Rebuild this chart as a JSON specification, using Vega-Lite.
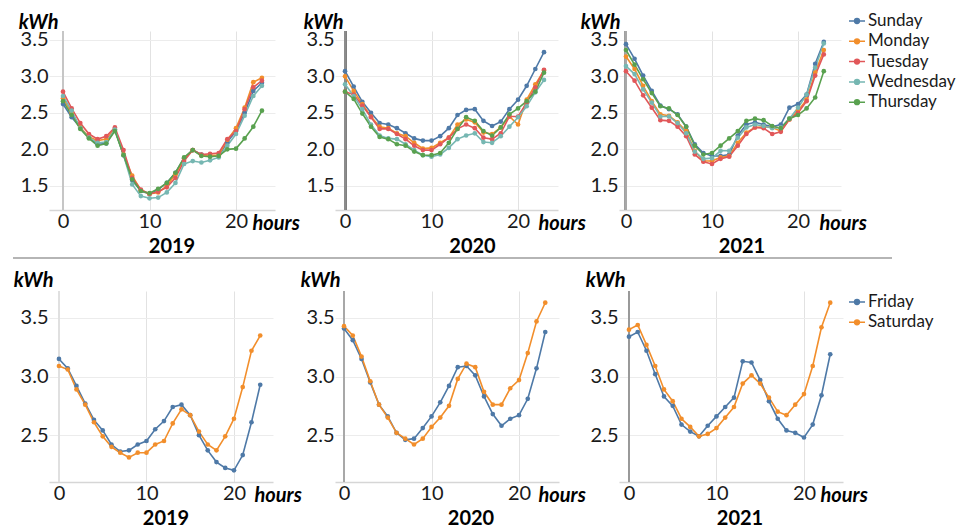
{
  "$schema": "https://vega.github.io/schema/vega-lite/v6.json",
  "padding": {"left": 12, "top": 12, "right": 0, "bottom": 0},
  "autosize": {"type": "pad"},
  "config": {
    "font": "Lato",
    "view": {"stroke": null},
    "axis": {
      "labelFont": "Lato", "labelFontSize": 20, "labelColor": "#1a1a1a", "ticks": false,
      "gridColor": "#ececec", "gridWidth": 1,
      "titleFont": "Lato", "titleFontSize": 20, "titleFontWeight": "bold", "titleFontStyle": "italic", "titleColor": "#000000"
    },
    "axisX": {"domainColor": "#d6d6d6", "domainWidth": 1.5, "labelPadding": 1, "labelAngle": 0, "gridColor": "#e2e2e2", "labelFlush": false},
    "axisY": {"domain": false, "labelPadding": 1},
    "title": {"font": "Lato", "fontSize": 20, "fontWeight": "bold", "color": "#000000", "offset": 0},
    "legend": {"labelFont": "Lato", "labelFontSize": 17, "labelColor": "#1a1a1a"}
  },
  "datasets": {
    "weekdays": [
      {"year":2019,"day":"Sunday","hour":0,"kwh":2.62},{"year":2019,"day":"Sunday","hour":1,"kwh":2.44},{"year":2019,"day":"Sunday","hour":2,"kwh":2.30},{"year":2019,"day":"Sunday","hour":3,"kwh":2.16},{"year":2019,"day":"Sunday","hour":4,"kwh":2.07},{"year":2019,"day":"Sunday","hour":5,"kwh":2.08},{"year":2019,"day":"Sunday","hour":6,"kwh":2.27},{"year":2019,"day":"Sunday","hour":7,"kwh":1.92},{"year":2019,"day":"Sunday","hour":8,"kwh":1.58},{"year":2019,"day":"Sunday","hour":9,"kwh":1.43},{"year":2019,"day":"Sunday","hour":10,"kwh":1.39},{"year":2019,"day":"Sunday","hour":11,"kwh":1.45},{"year":2019,"day":"Sunday","hour":12,"kwh":1.54},{"year":2019,"day":"Sunday","hour":13,"kwh":1.68},{"year":2019,"day":"Sunday","hour":14,"kwh":1.88},{"year":2019,"day":"Sunday","hour":15,"kwh":1.99},{"year":2019,"day":"Sunday","hour":16,"kwh":1.93},{"year":2019,"day":"Sunday","hour":17,"kwh":1.91},{"year":2019,"day":"Sunday","hour":18,"kwh":1.91},{"year":2019,"day":"Sunday","hour":19,"kwh":2.10},{"year":2019,"day":"Sunday","hour":20,"kwh":2.25},{"year":2019,"day":"Sunday","hour":21,"kwh":2.50},{"year":2019,"day":"Sunday","hour":22,"kwh":2.80},{"year":2019,"day":"Sunday","hour":23,"kwh":2.91},
      {"year":2019,"day":"Monday","hour":0,"kwh":2.70},{"year":2019,"day":"Monday","hour":1,"kwh":2.50},{"year":2019,"day":"Monday","hour":2,"kwh":2.30},{"year":2019,"day":"Monday","hour":3,"kwh":2.17},{"year":2019,"day":"Monday","hour":4,"kwh":2.12},{"year":2019,"day":"Monday","hour":5,"kwh":2.14},{"year":2019,"day":"Monday","hour":6,"kwh":2.28},{"year":2019,"day":"Monday","hour":7,"kwh":1.93},{"year":2019,"day":"Monday","hour":8,"kwh":1.64},{"year":2019,"day":"Monday","hour":9,"kwh":1.44},{"year":2019,"day":"Monday","hour":10,"kwh":1.39},{"year":2019,"day":"Monday","hour":11,"kwh":1.41},{"year":2019,"day":"Monday","hour":12,"kwh":1.50},{"year":2019,"day":"Monday","hour":13,"kwh":1.66},{"year":2019,"day":"Monday","hour":14,"kwh":1.87},{"year":2019,"day":"Monday","hour":15,"kwh":1.99},{"year":2019,"day":"Monday","hour":16,"kwh":1.92},{"year":2019,"day":"Monday","hour":17,"kwh":1.92},{"year":2019,"day":"Monday","hour":18,"kwh":1.92},{"year":2019,"day":"Monday","hour":19,"kwh":2.13},{"year":2019,"day":"Monday","hour":20,"kwh":2.29},{"year":2019,"day":"Monday","hour":21,"kwh":2.57},{"year":2019,"day":"Monday","hour":22,"kwh":2.92},{"year":2019,"day":"Monday","hour":23,"kwh":2.98},
      {"year":2019,"day":"Tuesday","hour":0,"kwh":2.79},{"year":2019,"day":"Tuesday","hour":1,"kwh":2.56},{"year":2019,"day":"Tuesday","hour":2,"kwh":2.36},{"year":2019,"day":"Tuesday","hour":3,"kwh":2.21},{"year":2019,"day":"Tuesday","hour":4,"kwh":2.14},{"year":2019,"day":"Tuesday","hour":5,"kwh":2.18},{"year":2019,"day":"Tuesday","hour":6,"kwh":2.30},{"year":2019,"day":"Tuesday","hour":7,"kwh":1.99},{"year":2019,"day":"Tuesday","hour":8,"kwh":1.61},{"year":2019,"day":"Tuesday","hour":9,"kwh":1.45},{"year":2019,"day":"Tuesday","hour":10,"kwh":1.39},{"year":2019,"day":"Tuesday","hour":11,"kwh":1.42},{"year":2019,"day":"Tuesday","hour":12,"kwh":1.48},{"year":2019,"day":"Tuesday","hour":13,"kwh":1.61},{"year":2019,"day":"Tuesday","hour":14,"kwh":1.84},{"year":2019,"day":"Tuesday","hour":15,"kwh":1.99},{"year":2019,"day":"Tuesday","hour":16,"kwh":1.93},{"year":2019,"day":"Tuesday","hour":17,"kwh":1.94},{"year":2019,"day":"Tuesday","hour":18,"kwh":1.95},{"year":2019,"day":"Tuesday","hour":19,"kwh":2.14},{"year":2019,"day":"Tuesday","hour":20,"kwh":2.25},{"year":2019,"day":"Tuesday","hour":21,"kwh":2.55},{"year":2019,"day":"Tuesday","hour":22,"kwh":2.85},{"year":2019,"day":"Tuesday","hour":23,"kwh":2.94},
      {"year":2019,"day":"Wednesday","hour":0,"kwh":2.73},{"year":2019,"day":"Wednesday","hour":1,"kwh":2.53},{"year":2019,"day":"Wednesday","hour":2,"kwh":2.29},{"year":2019,"day":"Wednesday","hour":3,"kwh":2.16},{"year":2019,"day":"Wednesday","hour":4,"kwh":2.09},{"year":2019,"day":"Wednesday","hour":5,"kwh":2.10},{"year":2019,"day":"Wednesday","hour":6,"kwh":2.27},{"year":2019,"day":"Wednesday","hour":7,"kwh":1.92},{"year":2019,"day":"Wednesday","hour":8,"kwh":1.52},{"year":2019,"day":"Wednesday","hour":9,"kwh":1.36},{"year":2019,"day":"Wednesday","hour":10,"kwh":1.33},{"year":2019,"day":"Wednesday","hour":11,"kwh":1.34},{"year":2019,"day":"Wednesday","hour":12,"kwh":1.41},{"year":2019,"day":"Wednesday","hour":13,"kwh":1.54},{"year":2019,"day":"Wednesday","hour":14,"kwh":1.80},{"year":2019,"day":"Wednesday","hour":15,"kwh":1.84},{"year":2019,"day":"Wednesday","hour":16,"kwh":1.82},{"year":2019,"day":"Wednesday","hour":17,"kwh":1.85},{"year":2019,"day":"Wednesday","hour":18,"kwh":1.89},{"year":2019,"day":"Wednesday","hour":19,"kwh":2.05},{"year":2019,"day":"Wednesday","hour":20,"kwh":2.21},{"year":2019,"day":"Wednesday","hour":21,"kwh":2.46},{"year":2019,"day":"Wednesday","hour":22,"kwh":2.73},{"year":2019,"day":"Wednesday","hour":23,"kwh":2.87},
      {"year":2019,"day":"Thursday","hour":0,"kwh":2.66},{"year":2019,"day":"Thursday","hour":1,"kwh":2.47},{"year":2019,"day":"Thursday","hour":2,"kwh":2.28},{"year":2019,"day":"Thursday","hour":3,"kwh":2.15},{"year":2019,"day":"Thursday","hour":4,"kwh":2.05},{"year":2019,"day":"Thursday","hour":5,"kwh":2.08},{"year":2019,"day":"Thursday","hour":6,"kwh":2.25},{"year":2019,"day":"Thursday","hour":7,"kwh":1.92},{"year":2019,"day":"Thursday","hour":8,"kwh":1.59},{"year":2019,"day":"Thursday","hour":9,"kwh":1.43},{"year":2019,"day":"Thursday","hour":10,"kwh":1.40},{"year":2019,"day":"Thursday","hour":11,"kwh":1.46},{"year":2019,"day":"Thursday","hour":12,"kwh":1.54},{"year":2019,"day":"Thursday","hour":13,"kwh":1.68},{"year":2019,"day":"Thursday","hour":14,"kwh":1.89},{"year":2019,"day":"Thursday","hour":15,"kwh":1.99},{"year":2019,"day":"Thursday","hour":16,"kwh":1.91},{"year":2019,"day":"Thursday","hour":17,"kwh":1.90},{"year":2019,"day":"Thursday","hour":18,"kwh":1.91},{"year":2019,"day":"Thursday","hour":19,"kwh":2.00},{"year":2019,"day":"Thursday","hour":20,"kwh":2.01},{"year":2019,"day":"Thursday","hour":21,"kwh":2.15},{"year":2019,"day":"Thursday","hour":22,"kwh":2.31},{"year":2019,"day":"Thursday","hour":23,"kwh":2.53},
      {"year":2020,"day":"Sunday","hour":0,"kwh":3.07},{"year":2020,"day":"Sunday","hour":1,"kwh":2.86},{"year":2020,"day":"Sunday","hour":2,"kwh":2.65},{"year":2020,"day":"Sunday","hour":3,"kwh":2.50},{"year":2020,"day":"Sunday","hour":4,"kwh":2.36},{"year":2020,"day":"Sunday","hour":5,"kwh":2.34},{"year":2020,"day":"Sunday","hour":6,"kwh":2.29},{"year":2020,"day":"Sunday","hour":7,"kwh":2.22},{"year":2020,"day":"Sunday","hour":8,"kwh":2.15},{"year":2020,"day":"Sunday","hour":9,"kwh":2.12},{"year":2020,"day":"Sunday","hour":10,"kwh":2.12},{"year":2020,"day":"Sunday","hour":11,"kwh":2.18},{"year":2020,"day":"Sunday","hour":12,"kwh":2.29},{"year":2020,"day":"Sunday","hour":13,"kwh":2.47},{"year":2020,"day":"Sunday","hour":14,"kwh":2.54},{"year":2020,"day":"Sunday","hour":15,"kwh":2.55},{"year":2020,"day":"Sunday","hour":16,"kwh":2.39},{"year":2020,"day":"Sunday","hour":17,"kwh":2.32},{"year":2020,"day":"Sunday","hour":18,"kwh":2.38},{"year":2020,"day":"Sunday","hour":19,"kwh":2.55},{"year":2020,"day":"Sunday","hour":20,"kwh":2.68},{"year":2020,"day":"Sunday","hour":21,"kwh":2.87},{"year":2020,"day":"Sunday","hour":22,"kwh":3.10},{"year":2020,"day":"Sunday","hour":23,"kwh":3.33},
      {"year":2020,"day":"Monday","hour":0,"kwh":3.00},{"year":2020,"day":"Monday","hour":1,"kwh":2.80},{"year":2020,"day":"Monday","hour":2,"kwh":2.62},{"year":2020,"day":"Monday","hour":3,"kwh":2.45},{"year":2020,"day":"Monday","hour":4,"kwh":2.31},{"year":2020,"day":"Monday","hour":5,"kwh":2.29},{"year":2020,"day":"Monday","hour":6,"kwh":2.22},{"year":2020,"day":"Monday","hour":7,"kwh":2.18},{"year":2020,"day":"Monday","hour":8,"kwh":2.09},{"year":2020,"day":"Monday","hour":9,"kwh":2.01},{"year":2020,"day":"Monday","hour":10,"kwh":2.02},{"year":2020,"day":"Monday","hour":11,"kwh":2.09},{"year":2020,"day":"Monday","hour":12,"kwh":2.16},{"year":2020,"day":"Monday","hour":13,"kwh":2.34},{"year":2020,"day":"Monday","hour":14,"kwh":2.41},{"year":2020,"day":"Monday","hour":15,"kwh":2.37},{"year":2020,"day":"Monday","hour":16,"kwh":2.23},{"year":2020,"day":"Monday","hour":17,"kwh":2.21},{"year":2020,"day":"Monday","hour":18,"kwh":2.30},{"year":2020,"day":"Monday","hour":19,"kwh":2.45},{"year":2020,"day":"Monday","hour":20,"kwh":2.34},{"year":2020,"day":"Monday","hour":21,"kwh":2.68},{"year":2020,"day":"Monday","hour":22,"kwh":2.89},{"year":2020,"day":"Monday","hour":23,"kwh":3.08},
      {"year":2020,"day":"Tuesday","hour":0,"kwh":2.79},{"year":2020,"day":"Tuesday","hour":1,"kwh":2.75},{"year":2020,"day":"Tuesday","hour":2,"kwh":2.60},{"year":2020,"day":"Tuesday","hour":3,"kwh":2.44},{"year":2020,"day":"Tuesday","hour":4,"kwh":2.28},{"year":2020,"day":"Tuesday","hour":5,"kwh":2.28},{"year":2020,"day":"Tuesday","hour":6,"kwh":2.21},{"year":2020,"day":"Tuesday","hour":7,"kwh":2.14},{"year":2020,"day":"Tuesday","hour":8,"kwh":2.05},{"year":2020,"day":"Tuesday","hour":9,"kwh":1.99},{"year":2020,"day":"Tuesday","hour":10,"kwh":1.99},{"year":2020,"day":"Tuesday","hour":11,"kwh":2.07},{"year":2020,"day":"Tuesday","hour":12,"kwh":2.16},{"year":2020,"day":"Tuesday","hour":13,"kwh":2.28},{"year":2020,"day":"Tuesday","hour":14,"kwh":2.34},{"year":2020,"day":"Tuesday","hour":15,"kwh":2.29},{"year":2020,"day":"Tuesday","hour":16,"kwh":2.16},{"year":2020,"day":"Tuesday","hour":17,"kwh":2.14},{"year":2020,"day":"Tuesday","hour":18,"kwh":2.22},{"year":2020,"day":"Tuesday","hour":19,"kwh":2.45},{"year":2020,"day":"Tuesday","hour":20,"kwh":2.45},{"year":2020,"day":"Tuesday","hour":21,"kwh":2.64},{"year":2020,"day":"Tuesday","hour":22,"kwh":2.85},{"year":2020,"day":"Tuesday","hour":23,"kwh":3.09},
      {"year":2020,"day":"Wednesday","hour":0,"kwh":2.89},{"year":2020,"day":"Wednesday","hour":1,"kwh":2.73},{"year":2020,"day":"Wednesday","hour":2,"kwh":2.55},{"year":2020,"day":"Wednesday","hour":3,"kwh":2.34},{"year":2020,"day":"Wednesday","hour":4,"kwh":2.19},{"year":2020,"day":"Wednesday","hour":5,"kwh":2.15},{"year":2020,"day":"Wednesday","hour":6,"kwh":2.14},{"year":2020,"day":"Wednesday","hour":7,"kwh":2.07},{"year":2020,"day":"Wednesday","hour":8,"kwh":1.99},{"year":2020,"day":"Wednesday","hour":9,"kwh":1.92},{"year":2020,"day":"Wednesday","hour":10,"kwh":1.90},{"year":2020,"day":"Wednesday","hour":11,"kwh":1.93},{"year":2020,"day":"Wednesday","hour":12,"kwh":2.02},{"year":2020,"day":"Wednesday","hour":13,"kwh":2.14},{"year":2020,"day":"Wednesday","hour":14,"kwh":2.19},{"year":2020,"day":"Wednesday","hour":15,"kwh":2.22},{"year":2020,"day":"Wednesday","hour":16,"kwh":2.10},{"year":2020,"day":"Wednesday","hour":17,"kwh":2.09},{"year":2020,"day":"Wednesday","hour":18,"kwh":2.18},{"year":2020,"day":"Wednesday","hour":19,"kwh":2.31},{"year":2020,"day":"Wednesday","hour":20,"kwh":2.44},{"year":2020,"day":"Wednesday","hour":21,"kwh":2.59},{"year":2020,"day":"Wednesday","hour":22,"kwh":2.78},{"year":2020,"day":"Wednesday","hour":23,"kwh":2.95},
      {"year":2020,"day":"Thursday","hour":0,"kwh":2.79},{"year":2020,"day":"Thursday","hour":1,"kwh":2.69},{"year":2020,"day":"Thursday","hour":2,"kwh":2.49},{"year":2020,"day":"Thursday","hour":3,"kwh":2.31},{"year":2020,"day":"Thursday","hour":4,"kwh":2.17},{"year":2020,"day":"Thursday","hour":5,"kwh":2.14},{"year":2020,"day":"Thursday","hour":6,"kwh":2.07},{"year":2020,"day":"Thursday","hour":7,"kwh":2.05},{"year":2020,"day":"Thursday","hour":8,"kwh":1.97},{"year":2020,"day":"Thursday","hour":9,"kwh":1.92},{"year":2020,"day":"Thursday","hour":10,"kwh":1.92},{"year":2020,"day":"Thursday","hour":11,"kwh":1.95},{"year":2020,"day":"Thursday","hour":12,"kwh":2.09},{"year":2020,"day":"Thursday","hour":13,"kwh":2.28},{"year":2020,"day":"Thursday","hour":14,"kwh":2.44},{"year":2020,"day":"Thursday","hour":15,"kwh":2.39},{"year":2020,"day":"Thursday","hour":16,"kwh":2.25},{"year":2020,"day":"Thursday","hour":17,"kwh":2.19},{"year":2020,"day":"Thursday","hour":18,"kwh":2.30},{"year":2020,"day":"Thursday","hour":19,"kwh":2.48},{"year":2020,"day":"Thursday","hour":20,"kwh":2.56},{"year":2020,"day":"Thursday","hour":21,"kwh":2.66},{"year":2020,"day":"Thursday","hour":22,"kwh":2.79},{"year":2020,"day":"Thursday","hour":23,"kwh":3.05},
      {"year":2021,"day":"Sunday","hour":0,"kwh":3.44},{"year":2021,"day":"Sunday","hour":1,"kwh":3.24},{"year":2021,"day":"Sunday","hour":2,"kwh":3.01},{"year":2021,"day":"Sunday","hour":3,"kwh":2.80},{"year":2021,"day":"Sunday","hour":4,"kwh":2.60},{"year":2021,"day":"Sunday","hour":5,"kwh":2.55},{"year":2021,"day":"Sunday","hour":6,"kwh":2.48},{"year":2021,"day":"Sunday","hour":7,"kwh":2.31},{"year":2021,"day":"Sunday","hour":8,"kwh":2.07},{"year":2021,"day":"Sunday","hour":9,"kwh":1.95},{"year":2021,"day":"Sunday","hour":10,"kwh":1.91},{"year":2021,"day":"Sunday","hour":11,"kwh":1.91},{"year":2021,"day":"Sunday","hour":12,"kwh":1.93},{"year":2021,"day":"Sunday","hour":13,"kwh":2.19},{"year":2021,"day":"Sunday","hour":14,"kwh":2.34},{"year":2021,"day":"Sunday","hour":15,"kwh":2.37},{"year":2021,"day":"Sunday","hour":16,"kwh":2.34},{"year":2021,"day":"Sunday","hour":17,"kwh":2.31},{"year":2021,"day":"Sunday","hour":18,"kwh":2.34},{"year":2021,"day":"Sunday","hour":19,"kwh":2.57},{"year":2021,"day":"Sunday","hour":20,"kwh":2.62},{"year":2021,"day":"Sunday","hour":21,"kwh":2.75},{"year":2021,"day":"Sunday","hour":22,"kwh":3.17},{"year":2021,"day":"Sunday","hour":23,"kwh":3.47},
      {"year":2021,"day":"Monday","hour":0,"kwh":3.27},{"year":2021,"day":"Monday","hour":1,"kwh":3.10},{"year":2021,"day":"Monday","hour":2,"kwh":2.87},{"year":2021,"day":"Monday","hour":3,"kwh":2.66},{"year":2021,"day":"Monday","hour":4,"kwh":2.48},{"year":2021,"day":"Monday","hour":5,"kwh":2.46},{"year":2021,"day":"Monday","hour":6,"kwh":2.37},{"year":2021,"day":"Monday","hour":7,"kwh":2.25},{"year":2021,"day":"Monday","hour":8,"kwh":1.98},{"year":2021,"day":"Monday","hour":9,"kwh":1.84},{"year":2021,"day":"Monday","hour":10,"kwh":1.84},{"year":2021,"day":"Monday","hour":11,"kwh":1.89},{"year":2021,"day":"Monday","hour":12,"kwh":1.91},{"year":2021,"day":"Monday","hour":13,"kwh":2.09},{"year":2021,"day":"Monday","hour":14,"kwh":2.23},{"year":2021,"day":"Monday","hour":15,"kwh":2.30},{"year":2021,"day":"Monday","hour":16,"kwh":2.31},{"year":2021,"day":"Monday","hour":17,"kwh":2.30},{"year":2021,"day":"Monday","hour":18,"kwh":2.25},{"year":2021,"day":"Monday","hour":19,"kwh":2.41},{"year":2021,"day":"Monday","hour":20,"kwh":2.53},{"year":2021,"day":"Monday","hour":21,"kwh":2.68},{"year":2021,"day":"Monday","hour":22,"kwh":3.05},{"year":2021,"day":"Monday","hour":23,"kwh":3.36},
      {"year":2021,"day":"Tuesday","hour":0,"kwh":3.07},{"year":2021,"day":"Tuesday","hour":1,"kwh":2.94},{"year":2021,"day":"Tuesday","hour":2,"kwh":2.74},{"year":2021,"day":"Tuesday","hour":3,"kwh":2.57},{"year":2021,"day":"Tuesday","hour":4,"kwh":2.40},{"year":2021,"day":"Tuesday","hour":5,"kwh":2.39},{"year":2021,"day":"Tuesday","hour":6,"kwh":2.31},{"year":2021,"day":"Tuesday","hour":7,"kwh":2.18},{"year":2021,"day":"Tuesday","hour":8,"kwh":1.93},{"year":2021,"day":"Tuesday","hour":9,"kwh":1.83},{"year":2021,"day":"Tuesday","hour":10,"kwh":1.80},{"year":2021,"day":"Tuesday","hour":11,"kwh":1.87},{"year":2021,"day":"Tuesday","hour":12,"kwh":1.90},{"year":2021,"day":"Tuesday","hour":13,"kwh":2.05},{"year":2021,"day":"Tuesday","hour":14,"kwh":2.21},{"year":2021,"day":"Tuesday","hour":15,"kwh":2.30},{"year":2021,"day":"Tuesday","hour":16,"kwh":2.29},{"year":2021,"day":"Tuesday","hour":17,"kwh":2.21},{"year":2021,"day":"Tuesday","hour":18,"kwh":2.24},{"year":2021,"day":"Tuesday","hour":19,"kwh":2.41},{"year":2021,"day":"Tuesday","hour":20,"kwh":2.50},{"year":2021,"day":"Tuesday","hour":21,"kwh":2.66},{"year":2021,"day":"Tuesday","hour":22,"kwh":3.01},{"year":2021,"day":"Tuesday","hour":23,"kwh":3.30},
      {"year":2021,"day":"Wednesday","hour":0,"kwh":3.14},{"year":2021,"day":"Wednesday","hour":1,"kwh":3.03},{"year":2021,"day":"Wednesday","hour":2,"kwh":2.82},{"year":2021,"day":"Wednesday","hour":3,"kwh":2.64},{"year":2021,"day":"Wednesday","hour":4,"kwh":2.45},{"year":2021,"day":"Wednesday","hour":5,"kwh":2.45},{"year":2021,"day":"Wednesday","hour":6,"kwh":2.36},{"year":2021,"day":"Wednesday","hour":7,"kwh":2.22},{"year":2021,"day":"Wednesday","hour":8,"kwh":1.97},{"year":2021,"day":"Wednesday","hour":9,"kwh":1.87},{"year":2021,"day":"Wednesday","hour":10,"kwh":1.88},{"year":2021,"day":"Wednesday","hour":11,"kwh":1.98},{"year":2021,"day":"Wednesday","hour":12,"kwh":1.98},{"year":2021,"day":"Wednesday","hour":13,"kwh":2.16},{"year":2021,"day":"Wednesday","hour":14,"kwh":2.30},{"year":2021,"day":"Wednesday","hour":15,"kwh":2.34},{"year":2021,"day":"Wednesday","hour":16,"kwh":2.32},{"year":2021,"day":"Wednesday","hour":17,"kwh":2.29},{"year":2021,"day":"Wednesday","hour":18,"kwh":2.30},{"year":2021,"day":"Wednesday","hour":19,"kwh":2.42},{"year":2021,"day":"Wednesday","hour":20,"kwh":2.57},{"year":2021,"day":"Wednesday","hour":21,"kwh":2.75},{"year":2021,"day":"Wednesday","hour":22,"kwh":3.12},{"year":2021,"day":"Wednesday","hour":23,"kwh":3.45},
      {"year":2021,"day":"Thursday","hour":0,"kwh":3.36},{"year":2021,"day":"Thursday","hour":1,"kwh":3.16},{"year":2021,"day":"Thursday","hour":2,"kwh":2.96},{"year":2021,"day":"Thursday","hour":3,"kwh":2.77},{"year":2021,"day":"Thursday","hour":4,"kwh":2.59},{"year":2021,"day":"Thursday","hour":5,"kwh":2.56},{"year":2021,"day":"Thursday","hour":6,"kwh":2.47},{"year":2021,"day":"Thursday","hour":7,"kwh":2.31},{"year":2021,"day":"Thursday","hour":8,"kwh":2.05},{"year":2021,"day":"Thursday","hour":9,"kwh":1.93},{"year":2021,"day":"Thursday","hour":10,"kwh":1.95},{"year":2021,"day":"Thursday","hour":11,"kwh":2.05},{"year":2021,"day":"Thursday","hour":12,"kwh":2.15},{"year":2021,"day":"Thursday","hour":13,"kwh":2.25},{"year":2021,"day":"Thursday","hour":14,"kwh":2.39},{"year":2021,"day":"Thursday","hour":15,"kwh":2.42},{"year":2021,"day":"Thursday","hour":16,"kwh":2.40},{"year":2021,"day":"Thursday","hour":17,"kwh":2.32},{"year":2021,"day":"Thursday","hour":18,"kwh":2.29},{"year":2021,"day":"Thursday","hour":19,"kwh":2.42},{"year":2021,"day":"Thursday","hour":20,"kwh":2.47},{"year":2021,"day":"Thursday","hour":21,"kwh":2.56},{"year":2021,"day":"Thursday","hour":22,"kwh":2.71},{"year":2021,"day":"Thursday","hour":23,"kwh":3.07}
    ],
    "weekend": [
      {"year":2019,"day":"Friday","hour":0,"kwh":3.15},{"year":2019,"day":"Friday","hour":1,"kwh":3.07},{"year":2019,"day":"Friday","hour":2,"kwh":2.92},{"year":2019,"day":"Friday","hour":3,"kwh":2.77},{"year":2019,"day":"Friday","hour":4,"kwh":2.63},{"year":2019,"day":"Friday","hour":5,"kwh":2.54},{"year":2019,"day":"Friday","hour":6,"kwh":2.42},{"year":2019,"day":"Friday","hour":7,"kwh":2.36},{"year":2019,"day":"Friday","hour":8,"kwh":2.37},{"year":2019,"day":"Friday","hour":9,"kwh":2.42},{"year":2019,"day":"Friday","hour":10,"kwh":2.45},{"year":2019,"day":"Friday","hour":11,"kwh":2.55},{"year":2019,"day":"Friday","hour":12,"kwh":2.62},{"year":2019,"day":"Friday","hour":13,"kwh":2.74},{"year":2019,"day":"Friday","hour":14,"kwh":2.76},{"year":2019,"day":"Friday","hour":15,"kwh":2.67},{"year":2019,"day":"Friday","hour":16,"kwh":2.50},{"year":2019,"day":"Friday","hour":17,"kwh":2.37},{"year":2019,"day":"Friday","hour":18,"kwh":2.27},{"year":2019,"day":"Friday","hour":19,"kwh":2.22},{"year":2019,"day":"Friday","hour":20,"kwh":2.20},{"year":2019,"day":"Friday","hour":21,"kwh":2.33},{"year":2019,"day":"Friday","hour":22,"kwh":2.61},{"year":2019,"day":"Friday","hour":23,"kwh":2.93},
      {"year":2019,"day":"Saturday","hour":0,"kwh":3.09},{"year":2019,"day":"Saturday","hour":1,"kwh":3.06},{"year":2019,"day":"Saturday","hour":2,"kwh":2.89},{"year":2019,"day":"Saturday","hour":3,"kwh":2.76},{"year":2019,"day":"Saturday","hour":4,"kwh":2.61},{"year":2019,"day":"Saturday","hour":5,"kwh":2.49},{"year":2019,"day":"Saturday","hour":6,"kwh":2.40},{"year":2019,"day":"Saturday","hour":7,"kwh":2.35},{"year":2019,"day":"Saturday","hour":8,"kwh":2.31},{"year":2019,"day":"Saturday","hour":9,"kwh":2.35},{"year":2019,"day":"Saturday","hour":10,"kwh":2.35},{"year":2019,"day":"Saturday","hour":11,"kwh":2.42},{"year":2019,"day":"Saturday","hour":12,"kwh":2.45},{"year":2019,"day":"Saturday","hour":13,"kwh":2.60},{"year":2019,"day":"Saturday","hour":14,"kwh":2.72},{"year":2019,"day":"Saturday","hour":15,"kwh":2.67},{"year":2019,"day":"Saturday","hour":16,"kwh":2.53},{"year":2019,"day":"Saturday","hour":17,"kwh":2.42},{"year":2019,"day":"Saturday","hour":18,"kwh":2.37},{"year":2019,"day":"Saturday","hour":19,"kwh":2.49},{"year":2019,"day":"Saturday","hour":20,"kwh":2.64},{"year":2019,"day":"Saturday","hour":21,"kwh":2.91},{"year":2019,"day":"Saturday","hour":22,"kwh":3.22},{"year":2019,"day":"Saturday","hour":23,"kwh":3.35},
      {"year":2020,"day":"Friday","hour":0,"kwh":3.41},{"year":2020,"day":"Friday","hour":1,"kwh":3.31},{"year":2020,"day":"Friday","hour":2,"kwh":3.15},{"year":2020,"day":"Friday","hour":3,"kwh":2.95},{"year":2020,"day":"Friday","hour":4,"kwh":2.76},{"year":2020,"day":"Friday","hour":5,"kwh":2.66},{"year":2020,"day":"Friday","hour":6,"kwh":2.52},{"year":2020,"day":"Friday","hour":7,"kwh":2.46},{"year":2020,"day":"Friday","hour":8,"kwh":2.47},{"year":2020,"day":"Friday","hour":9,"kwh":2.56},{"year":2020,"day":"Friday","hour":10,"kwh":2.66},{"year":2020,"day":"Friday","hour":11,"kwh":2.78},{"year":2020,"day":"Friday","hour":12,"kwh":2.92},{"year":2020,"day":"Friday","hour":13,"kwh":3.08},{"year":2020,"day":"Friday","hour":14,"kwh":3.09},{"year":2020,"day":"Friday","hour":15,"kwh":3.01},{"year":2020,"day":"Friday","hour":16,"kwh":2.83},{"year":2020,"day":"Friday","hour":17,"kwh":2.68},{"year":2020,"day":"Friday","hour":18,"kwh":2.58},{"year":2020,"day":"Friday","hour":19,"kwh":2.64},{"year":2020,"day":"Friday","hour":20,"kwh":2.67},{"year":2020,"day":"Friday","hour":21,"kwh":2.81},{"year":2020,"day":"Friday","hour":22,"kwh":3.07},{"year":2020,"day":"Friday","hour":23,"kwh":3.38},
      {"year":2020,"day":"Saturday","hour":0,"kwh":3.43},{"year":2020,"day":"Saturday","hour":1,"kwh":3.35},{"year":2020,"day":"Saturday","hour":2,"kwh":3.17},{"year":2020,"day":"Saturday","hour":3,"kwh":2.96},{"year":2020,"day":"Saturday","hour":4,"kwh":2.76},{"year":2020,"day":"Saturday","hour":5,"kwh":2.65},{"year":2020,"day":"Saturday","hour":6,"kwh":2.52},{"year":2020,"day":"Saturday","hour":7,"kwh":2.47},{"year":2020,"day":"Saturday","hour":8,"kwh":2.42},{"year":2020,"day":"Saturday","hour":9,"kwh":2.47},{"year":2020,"day":"Saturday","hour":10,"kwh":2.57},{"year":2020,"day":"Saturday","hour":11,"kwh":2.65},{"year":2020,"day":"Saturday","hour":12,"kwh":2.75},{"year":2020,"day":"Saturday","hour":13,"kwh":2.98},{"year":2020,"day":"Saturday","hour":14,"kwh":3.11},{"year":2020,"day":"Saturday","hour":15,"kwh":3.08},{"year":2020,"day":"Saturday","hour":16,"kwh":2.87},{"year":2020,"day":"Saturday","hour":17,"kwh":2.76},{"year":2020,"day":"Saturday","hour":18,"kwh":2.76},{"year":2020,"day":"Saturday","hour":19,"kwh":2.90},{"year":2020,"day":"Saturday","hour":20,"kwh":2.97},{"year":2020,"day":"Saturday","hour":21,"kwh":3.20},{"year":2020,"day":"Saturday","hour":22,"kwh":3.47},{"year":2020,"day":"Saturday","hour":23,"kwh":3.63},
      {"year":2021,"day":"Friday","hour":0,"kwh":3.34},{"year":2021,"day":"Friday","hour":1,"kwh":3.38},{"year":2021,"day":"Friday","hour":2,"kwh":3.22},{"year":2021,"day":"Friday","hour":3,"kwh":3.02},{"year":2021,"day":"Friday","hour":4,"kwh":2.83},{"year":2021,"day":"Friday","hour":5,"kwh":2.75},{"year":2021,"day":"Friday","hour":6,"kwh":2.59},{"year":2021,"day":"Friday","hour":7,"kwh":2.53},{"year":2021,"day":"Friday","hour":8,"kwh":2.49},{"year":2021,"day":"Friday","hour":9,"kwh":2.58},{"year":2021,"day":"Friday","hour":10,"kwh":2.66},{"year":2021,"day":"Friday","hour":11,"kwh":2.74},{"year":2021,"day":"Friday","hour":12,"kwh":2.82},{"year":2021,"day":"Friday","hour":13,"kwh":3.13},{"year":2021,"day":"Friday","hour":14,"kwh":3.12},{"year":2021,"day":"Friday","hour":15,"kwh":2.97},{"year":2021,"day":"Friday","hour":16,"kwh":2.79},{"year":2021,"day":"Friday","hour":17,"kwh":2.64},{"year":2021,"day":"Friday","hour":18,"kwh":2.54},{"year":2021,"day":"Friday","hour":19,"kwh":2.52},{"year":2021,"day":"Friday","hour":20,"kwh":2.48},{"year":2021,"day":"Friday","hour":21,"kwh":2.59},{"year":2021,"day":"Friday","hour":22,"kwh":2.84},{"year":2021,"day":"Friday","hour":23,"kwh":3.19},
      {"year":2021,"day":"Saturday","hour":0,"kwh":3.40},{"year":2021,"day":"Saturday","hour":1,"kwh":3.44},{"year":2021,"day":"Saturday","hour":2,"kwh":3.27},{"year":2021,"day":"Saturday","hour":3,"kwh":3.09},{"year":2021,"day":"Saturday","hour":4,"kwh":2.89},{"year":2021,"day":"Saturday","hour":5,"kwh":2.79},{"year":2021,"day":"Saturday","hour":6,"kwh":2.64},{"year":2021,"day":"Saturday","hour":7,"kwh":2.57},{"year":2021,"day":"Saturday","hour":8,"kwh":2.49},{"year":2021,"day":"Saturday","hour":9,"kwh":2.51},{"year":2021,"day":"Saturday","hour":10,"kwh":2.56},{"year":2021,"day":"Saturday","hour":11,"kwh":2.65},{"year":2021,"day":"Saturday","hour":12,"kwh":2.74},{"year":2021,"day":"Saturday","hour":13,"kwh":2.94},{"year":2021,"day":"Saturday","hour":14,"kwh":3.01},{"year":2021,"day":"Saturday","hour":15,"kwh":2.94},{"year":2021,"day":"Saturday","hour":16,"kwh":2.82},{"year":2021,"day":"Saturday","hour":17,"kwh":2.70},{"year":2021,"day":"Saturday","hour":18,"kwh":2.67},{"year":2021,"day":"Saturday","hour":19,"kwh":2.76},{"year":2021,"day":"Saturday","hour":20,"kwh":2.85},{"year":2021,"day":"Saturday","hour":21,"kwh":3.09},{"year":2021,"day":"Saturday","hour":22,"kwh":3.42},{"year":2021,"day":"Saturday","hour":23,"kwh":3.63}
    ]
  },
  "concat": [
    {
      "width": 226, "height": 179,
      "title": {"text": "2019", "orient": "bottom", "dx": 10},
      "data": {"name": "weekdays"},
      "transform": [{"filter": "datum.year == 2019"}],
      "layer": [
        {"mark": {"type": "rule", "color": "#c6c6c6", "strokeWidth": 2}, "encoding": {"x": {"datum": 0, "type": "quantitative"}}},
        {
          "mark": {"type": "line", "strokeWidth": 1.6, "point": {"filled": true, "size": 22}},
          "encoding": {
            "x": {"field": "hour", "type": "quantitative", "title": "hours", "scale": {"domain": [-1.62, 24.51], "nice": false, "zero": false},
                  "axis": {"values": [0, 10, 20], "grid": true, "title": "hours", "titleX": 203, "titleY": 19, "titleAlign": "left", "titleBaseline": "alphabetic"}},
            "y": {"field": "kwh", "type": "quantitative", "title": "kWh", "scale": {"domain": [1.17, 3.62], "nice": false, "zero": false},
                  "axis": {"values": [1.5, 2, 2.5, 3, 3.5], "format": ".1f", "grid": true, "title": "kWh", "titleAngle": 0, "titleAlign": "right", "titleBaseline": "alphabetic", "titleX": 9, "titleY": -3}},
            "color": {"field": "day", "type": "nominal", "scale": {"domain": ["Sunday", "Monday", "Tuesday", "Wednesday", "Thursday"], "range": ["#4e79a7", "#f28e2b", "#e15759", "#76b7b2", "#59a14f"]}, "legend": null}
          }
        }
      ]
    },
    {
      "width": 223, "height": 179,
      "title": {"text": "2020", "orient": "bottom", "dx": 26},
      "data": {"name": "weekdays"},
      "transform": [{"filter": "datum.year == 2020"}],
      "layer": [
        {"mark": {"type": "rule", "color": "#8c8c8c", "strokeWidth": 2}, "encoding": {"x": {"datum": 0, "type": "quantitative"}}},
        {
          "mark": {"type": "line", "strokeWidth": 1.6, "point": {"filled": true, "size": 22}},
          "encoding": {
            "x": {"field": "hour", "type": "quantitative", "title": "hours", "scale": {"domain": [-1.16, 24.62], "nice": false, "zero": false},
                  "axis": {"values": [0, 10, 20], "grid": true, "title": "hours", "titleX": 203, "titleY": 19, "titleAlign": "left", "titleBaseline": "alphabetic"}},
            "y": {"field": "kwh", "type": "quantitative", "title": "kWh", "scale": {"domain": [1.17, 3.62], "nice": false, "zero": false},
                  "axis": {"values": [1.5, 2, 2.5, 3, 3.5], "format": ".1f", "grid": true, "title": "kWh", "titleAngle": 0, "titleAlign": "right", "titleBaseline": "alphabetic", "titleX": 8, "titleY": -3}},
            "color": {"field": "day", "type": "nominal", "scale": {"domain": ["Sunday", "Monday", "Tuesday", "Wednesday", "Thursday"], "range": ["#4e79a7", "#f28e2b", "#e15759", "#76b7b2", "#59a14f"]}, "legend": null}
          }
        }
      ]
    },
    {
      "width": 222, "height": 179,
      "title": {"text": "2021", "orient": "bottom", "dx": 12},
      "data": {"name": "weekdays"},
      "transform": [{"filter": "datum.year == 2021"}],
      "layer": [
        {"mark": {"type": "rule", "color": "#a8a8a8", "strokeWidth": 2}, "encoding": {"x": {"datum": 0, "type": "quantitative"}}},
        {
          "mark": {"type": "line", "strokeWidth": 1.6, "point": {"filled": true, "size": 22}},
          "encoding": {
            "x": {"field": "hour", "type": "quantitative", "title": "hours", "scale": {"domain": [-0.81, 25.0], "nice": false, "zero": false},
                  "axis": {"values": [0, 10, 20], "grid": true, "title": "hours", "titleX": 200, "titleY": 19, "titleAlign": "left", "titleBaseline": "alphabetic"}},
            "y": {"field": "kwh", "type": "quantitative", "title": "kWh", "scale": {"domain": [1.17, 3.62], "nice": false, "zero": false},
                  "axis": {"values": [1.5, 2, 2.5, 3, 3.5], "format": ".1f", "grid": true, "title": "kWh", "titleAngle": 0, "titleAlign": "right", "titleBaseline": "alphabetic", "titleX": 1, "titleY": -3}},
            "color": {"field": "day", "type": "nominal", "scale": {"domain": ["Sunday", "Monday", "Tuesday", "Wednesday", "Thursday"], "range": ["#4e79a7", "#f28e2b", "#e15759", "#76b7b2", "#59a14f"]},
                      "legend": {"title": null, "orient": "none", "legendX": 229, "legendY": -19, "symbolType": "M-1,0H1M-0.3,0A0.3,0.3 0 1,0 0.3,0A0.3,0.3 0 1,0 -0.3,0", "symbolSize": 256, "symbolStrokeWidth": 1.5, "labelOffset": 2, "rowPadding": 3.3}}
          }
        }
      ]
    },
    {
      "width": 226, "height": 81,
      "data": {"values": [{"part": "divider"}]},
      "mark": {"type": "rule", "color": "#9c9c9c", "strokeWidth": 1.5},
      "encoding": {
        "x": {"datum": -36, "type": "quantitative", "scale": {"domain": [0, 226]}, "axis": null},
        "x2": {"datum": 843},
        "y": {"datum": 33, "type": "quantitative", "scale": {"domain": [0, 81]}, "axis": null}
      }
    },
    {"width": 1, "height": 1, "data": {"values": []}, "mark": "point", "encoding": {}},
    {"width": 1, "height": 1, "data": {"values": []}, "mark": "point", "encoding": {}},
    {
      "width": 224, "height": 191,
      "title": {"text": "2019", "orient": "bottom", "dx": 5},
      "data": {"name": "weekend"},
      "transform": [{"filter": "datum.year == 2019"}],
      "layer": [
        {"mark": {"type": "rule", "color": "#e0e0e0", "strokeWidth": 2}, "encoding": {"x": {"datum": 0, "type": "quantitative"}}},
        {
          "mark": {"type": "line", "strokeWidth": 1.6, "point": {"filled": true, "size": 22}},
          "encoding": {
            "x": {"field": "hour", "type": "quantitative", "title": "hours", "scale": {"domain": [-1.14, 24.46], "nice": false, "zero": false},
                  "axis": {"values": [0, 10, 20], "grid": true, "title": "hours", "titleX": 205, "titleY": 19, "titleAlign": "left", "titleBaseline": "alphabetic"}},
            "y": {"field": "kwh", "type": "quantitative", "title": "kWh", "scale": {"domain": [2.1, 3.73], "nice": false, "zero": false},
                  "axis": {"values": [2.5, 3, 3.5], "format": ".1f", "grid": true, "title": "kWh", "titleAngle": 0, "titleAlign": "right", "titleBaseline": "alphabetic", "titleX": 4, "titleY": -5}},
            "color": {"field": "day", "type": "nominal", "scale": {"domain": ["Friday", "Saturday"], "range": ["#4e79a7", "#f28e2b"]}, "legend": null}
          }
        }
      ]
    },
    {
      "width": 224, "height": 191,
      "title": {"text": "2020", "orient": "bottom", "dx": 24},
      "data": {"name": "weekend"},
      "transform": [{"filter": "datum.year == 2020"}],
      "layer": [
        {"mark": {"type": "rule", "color": "#a8a8a8", "strokeWidth": 2}, "encoding": {"x": {"datum": 0, "type": "quantitative"}}},
        {
          "mark": {"type": "line", "strokeWidth": 1.6, "point": {"filled": true, "size": 22}},
          "encoding": {
            "x": {"field": "hour", "type": "quantitative", "title": "hours", "scale": {"domain": [-1.03, 24.57], "nice": false, "zero": false},
                  "axis": {"values": [0, 10, 20], "grid": true, "title": "hours", "titleX": 203, "titleY": 19, "titleAlign": "left", "titleBaseline": "alphabetic"}},
            "y": {"field": "kwh", "type": "quantitative", "title": "kWh", "scale": {"domain": [2.1, 3.73], "nice": false, "zero": false},
                  "axis": {"values": [2.5, 3, 3.5], "format": ".1f", "grid": true, "title": "kWh", "titleAngle": 0, "titleAlign": "right", "titleBaseline": "alphabetic", "titleX": 5, "titleY": -5}},
            "color": {"field": "day", "type": "nominal", "scale": {"domain": ["Friday", "Saturday"], "range": ["#4e79a7", "#f28e2b"]}, "legend": null}
          }
        }
      ]
    },
    {
      "width": 224, "height": 191,
      "title": {"text": "2021", "orient": "bottom", "dx": 9},
      "data": {"name": "weekend"},
      "transform": [{"filter": "datum.year == 2021"}],
      "layer": [
        {"mark": {"type": "rule", "color": "#9a9a9a", "strokeWidth": 1.5}, "encoding": {"x": {"datum": 0, "type": "quantitative"}}},
        {
          "mark": {"type": "line", "strokeWidth": 1.6, "point": {"filled": true, "size": 22}},
          "encoding": {
            "x": {"field": "hour", "type": "quantitative", "title": "hours", "scale": {"domain": [-1.14, 24.46], "nice": false, "zero": false},
                  "axis": {"values": [0, 10, 20], "grid": true, "title": "hours", "titleX": 201, "titleY": 19, "titleAlign": "left", "titleBaseline": "alphabetic"}},
            "y": {"field": "kwh", "type": "quantitative", "title": "kWh", "scale": {"domain": [2.1, 3.73], "nice": false, "zero": false},
                  "axis": {"values": [2.5, 3, 3.5], "format": ".1f", "grid": true, "title": "kWh", "titleAngle": 0, "titleAlign": "right", "titleBaseline": "alphabetic", "titleX": 6, "titleY": -5}},
            "color": {"field": "day", "type": "nominal", "scale": {"domain": ["Friday", "Saturday"], "range": ["#4e79a7", "#f28e2b"]},
                      "legend": {"title": null, "orient": "none", "legendX": 229, "legendY": 2, "symbolType": "M-1,0H1M-0.3,0A0.3,0.3 0 1,0 0.3,0A0.3,0.3 0 1,0 -0.3,0", "symbolSize": 256, "symbolStrokeWidth": 1.5, "labelOffset": 2, "rowPadding": 3.3}}
          }
        }
      ]
    }
  ],
  "columns": 3,
  "spacing": {"row": 0, "column": 60},
  "bounds": "flush",
  "align": "each",
  "resolve": {"scale": {"color": "independent", "x": "independent", "y": "independent"}, "legend": {"color": "independent"}}
}
